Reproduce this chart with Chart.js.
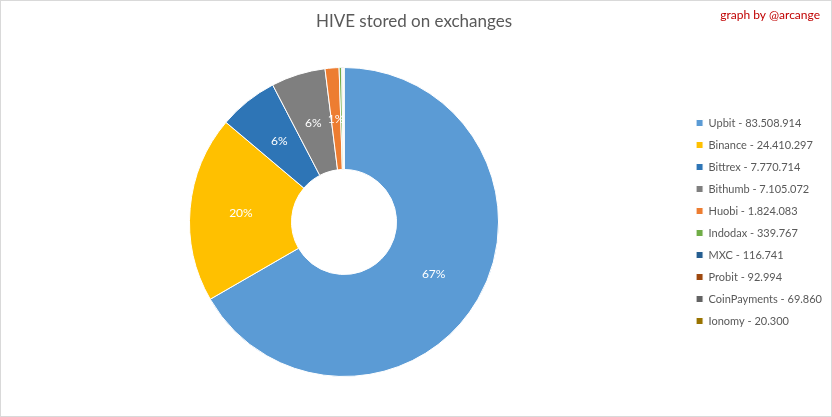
<!DOCTYPE html>
<html>
<head>
<meta charset="utf-8">
<script src="https://cdn.jsdelivr.net/npm/chart.js@4.4.0/dist/chart.umd.min.js"></script>
<style>
  html, body { margin: 0; padding: 0; background: #fff; }
  #wrap { width: 832px; height: 417px; position: relative; }
</style>
</head>
<body>
<div id="wrap"><canvas id="grafico"></canvas></div>
<script>
// exchanges and HIVE held
var exchanges = ['Upbit', 'Binance', 'Bittrex', 'Bithumb', 'Huobi', 'Indodax', 'MXC', 'Probit', 'CoinPayments', 'Ionomy'];
var amounts = [83508914, 24410297, 7770714, 7105072, 1824083, 339767, 116741, 92994, 69860, 20300];
var amountLabels = ['83.508.914', '24.410.297', '7.770.714', '7.105.072', '1.824.083', '339.767', '116.741', '92.994', '69.860', '20.300'];
var pctLabels = ['67%', '20%', '6%', '6%', '1%', '', '', '', '', ''];
var colores = ['#5B9BD5', '#FFC000', '#2E75B6', '#7F7F7F', '#ED7D31', '#70AD47', '#255E91', '#9E480E', '#636363', '#997300'];

var fuente = 'Lato, "Open Sans", sans-serif';

// fondo, borde, titulo y firma
var marco = {
    id: 'marco',
    beforeDraw: function (chart) {
        var ctx = chart.ctx;
        ctx.save();
        ctx.fillStyle = '#fff';
        ctx.fillRect(0, 0, chart.width, chart.height);
        ctx.strokeStyle = '#D9D9D9';
        ctx.lineWidth = 1;
        ctx.strokeRect(0.5, 0.5, chart.width - 1, chart.height - 1);
        ctx.restore();
    },
    afterDraw: function (chart) {
        var ctx = chart.ctx;
        ctx.save();
        ctx.fillStyle = '#595959';
        ctx.font = '17px ' + fuente;
        ctx.textAlign = 'center';
        ctx.textBaseline = 'middle';
        ctx.fillText('HIVE stored on exchanges', 414, 22);
        ctx.fillStyle = '#C00000';
        ctx.font = '12px ' + fuente;
        ctx.textAlign = 'right';
        ctx.fillText('graph by @arcange', 820, 15);
        ctx.restore();
    }
};

// porcentajes dentro de cada porcion
var etiquetas = {
    id: 'etiquetas',
    afterDatasetsDraw: function (chart) {
        var ctx = chart.ctx;
        var meta = chart.getDatasetMeta(0);
        ctx.save();
        ctx.fillStyle = '#fff';
        ctx.font = '12px ' + fuente;
        ctx.textAlign = 'center';
        ctx.textBaseline = 'middle';
        meta.data.forEach(function (arc, i) {
            if (!pctLabels[i]) return;
            var p = arc.tooltipPosition();
            ctx.fillText(pctLabels[i], p.x, p.y);
        });
        ctx.restore();
    }
};

var chartdata = {
    labels: exchanges.map(function (n, i) { return n + ' - ' + amountLabels[i]; }),
    datasets: [{
        data: amounts,
        backgroundColor: colores,
        borderColor: '#fff',
        borderWidth: 1
    }]
};

var grafico = new Chart(document.getElementById('grafico'), {
    type: 'doughnut',
    data: chartdata,
    plugins: [marco, etiquetas],
    options: {
        responsive: true,
        maintainAspectRatio: false,
        animation: false,
        cutout: '34%',
        layout: { padding: { top: 67, bottom: 40, left: 3, right: 0 } },
        plugins: {
            tooltip: { enabled: false },
            legend: {
                position: 'right',
                labels: {
                    boxWidth: 7,
                    boxHeight: 7,
                    padding: 11,
                    color: '#595959',
                    font: { family: fuente, size: 11 }
                }
            }
        }
    }
});
</script>
</body>
</html>
